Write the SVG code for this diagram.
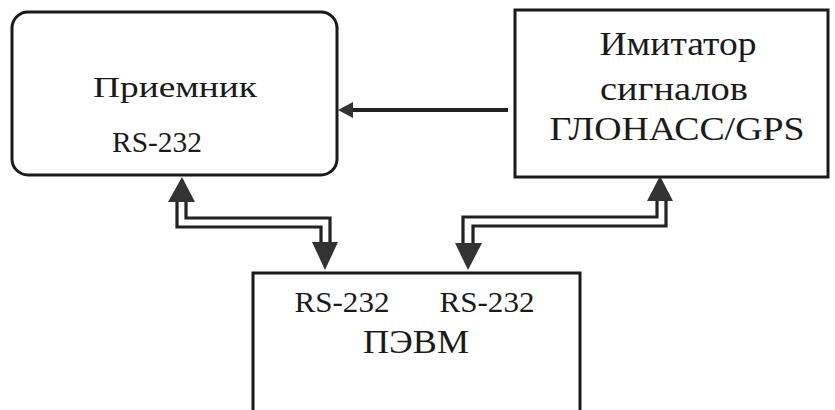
<svg xmlns="http://www.w3.org/2000/svg" width="835" height="410" viewBox="0 0 835 410">
<style>
.box{fill:#fff;stroke:#1a1a1a;stroke-width:3}
.t{font-family:'Liberation Serif','DejaVu Serif',serif;fill:#1a1a1a;text-anchor:middle}
.pipe{fill:none;stroke:#222;stroke-width:3.2}
.head{fill:#333}
</style>
<rect width="835" height="410" fill="#fff"/>
<g id="receiver">
<rect class="box" x="12" y="12" width="325" height="163" rx="16"/>
<text class="t" x="175" y="97" font-size="30" textLength="164" lengthAdjust="spacingAndGlyphs">Приемник</text>
<text class="t" x="157" y="152" font-size="29" textLength="90" lengthAdjust="spacingAndGlyphs">RS-232</text>
</g>
<g id="simulator">
<rect class="box" x="515" y="10" width="313" height="167"/>
<text class="t" x="678" y="55" font-size="34" textLength="157" lengthAdjust="spacingAndGlyphs">Имитатор</text>
<text class="t" x="674" y="100" font-size="34" textLength="148" lengthAdjust="spacingAndGlyphs">сигналов</text>
<text class="t" x="677" y="140" font-size="34" textLength="255" lengthAdjust="spacingAndGlyphs">ГЛОНАСС/GPS</text>
</g>
<g id="pc">
<rect class="box" x="253" y="273" width="327" height="160"/>
<text class="t" x="342" y="312" font-size="30" textLength="95" lengthAdjust="spacingAndGlyphs">RS-232</text>
<text class="t" x="487" y="312" font-size="30" textLength="95" lengthAdjust="spacingAndGlyphs">RS-232</text>
<text class="t" x="416" y="353" font-size="33" textLength="106" lengthAdjust="spacingAndGlyphs">ПЭВМ</text>
</g>
<g id="connectors">
<line x1="508" y1="110" x2="350" y2="110" stroke="#222" stroke-width="4"/>
<polygon class="head" points="338,110 353,102 353,118"/>
<path class="pipe" d="M186,201 V218 H330 V243"/>
<path class="pipe" d="M177,201 V227 H321 V243"/>
<polygon class="head" points="182,177 195,202 168,202"/>
<polygon class="head" points="312,242 338,242 325,270"/>
<path class="pipe" d="M657,200 V217 H463 V244"/>
<path class="pipe" d="M666,200 V226 H473 V244"/>
<polygon class="head" points="660,176 673,201 647,201"/>
<polygon class="head" points="455,243 482,243 468,270"/>
</g>
</svg>
